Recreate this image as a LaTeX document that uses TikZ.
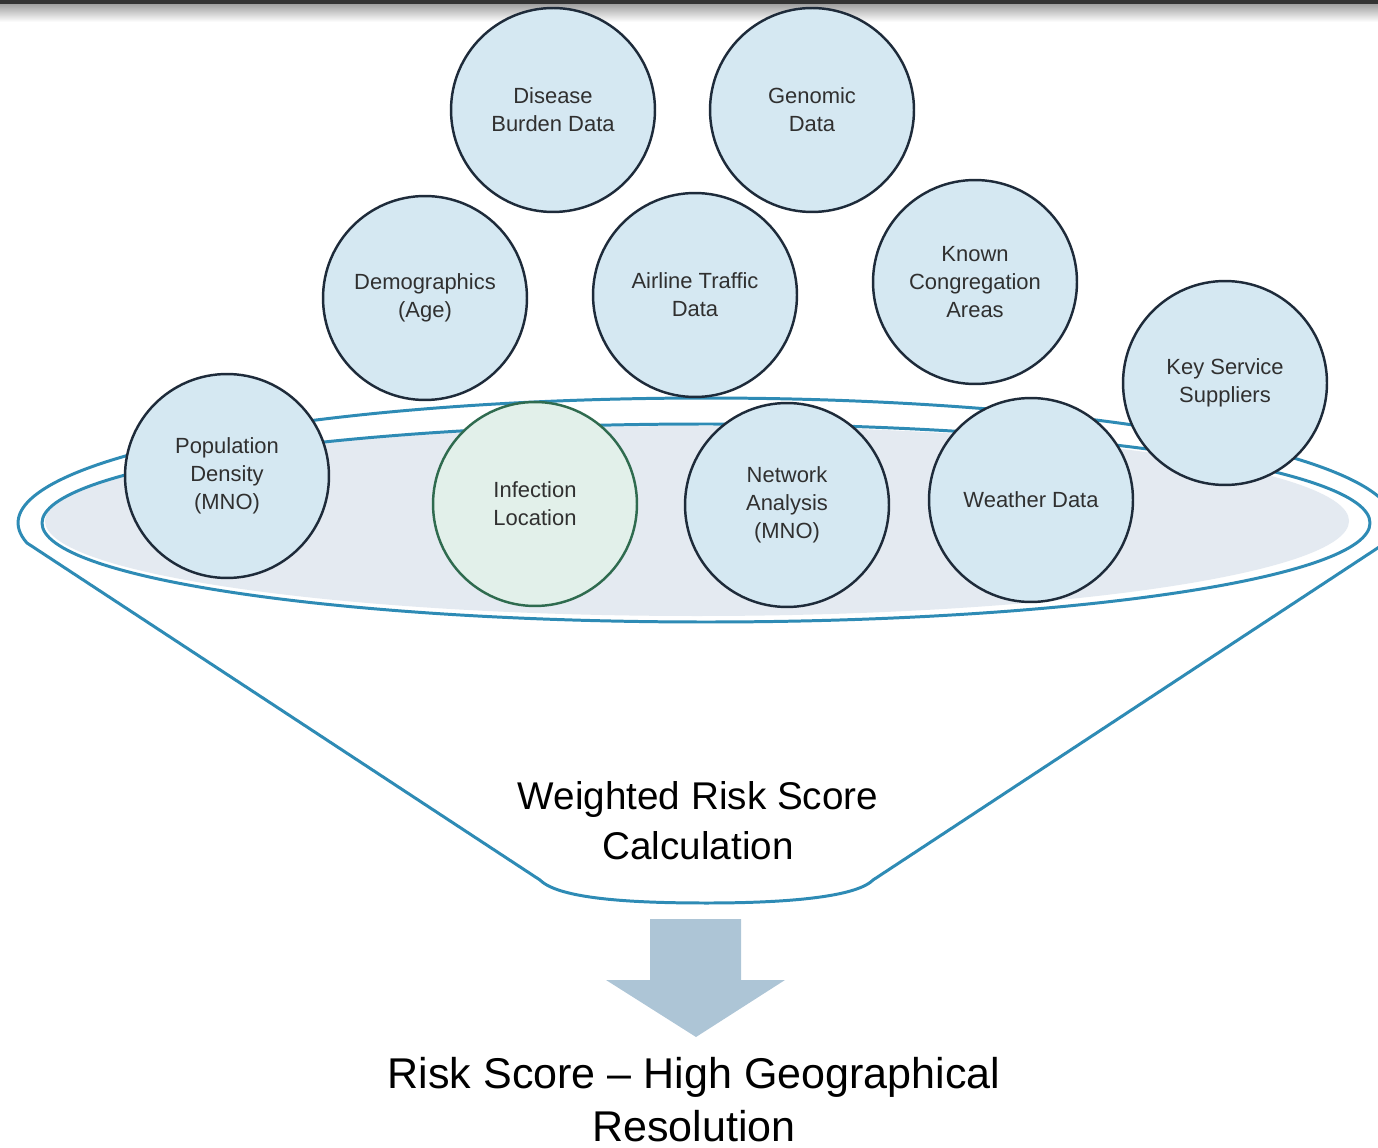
\documentclass[tikz,border=0pt]{standalone}
\usepackage{fontspec}
\setmainfont{Liberation Sans}
\usepackage{xcolor}
\usepackage{tikz}

\definecolor{rimblue}{HTML}{2E8BB5}
\definecolor{circfill}{HTML}{D5E8F2}
\definecolor{circline}{HTML}{1E2B3A}
\definecolor{locfill}{HTML}{E2F0EA}
\definecolor{locline}{HTML}{2F6B4F}
\definecolor{bowlfill}{HTML}{E4EAF1}
\definecolor{arrowfill}{HTML}{ADC5D6}
\definecolor{labelgray}{HTML}{303030}

\begin{document}
\begin{tikzpicture}[
  x=0.02cm, y=0.02cm,
  datacirc/.style={circle, draw=circline, fill=circfill, line width=1.4pt,
    minimum size=4.08cm, inner sep=0pt, align=center, text=labelgray,
    font=\fontsize{12.5}{15.8}\selectfont},
  loccirc/.style={datacirc, draw=locline, fill=locfill},
  rim/.style={draw=rimblue, line width=1.7pt, line join=round},
  calctext/.style={align=center, inner sep=0pt, font=\fontsize{22}{28.3}\selectfont},
  resulttext/.style={align=center, inner sep=0pt, font=\fontsize{24.5}{30}\selectfont}
]
  \useasboundingbox (0,0) rectangle (1378,-1148);

  \fill[black!80] (0,0) rectangle (1378,-5);
  \shade[top color=black!35, bottom color=white] (0,-5) rectangle (1378,-22);

  \draw[rim, fill=white] (27,-543)
    arc[start angle=189.2, end angle=-9.2, x radius=688, y radius=125]
    -- (873,-880) .. controls (855,-898) and (780,-903) .. (707,-903)
    .. controls (640,-903) and (560,-900) .. (540,-880) -- cycle;
  \fill[bowlfill] (697,-521) ellipse[x radius=652, y radius=95];
  \draw[rim] (706,-523) ellipse[x radius=664, y radius=99];

  \node[datacirc] (disease) at (553,-110)  {Disease\\Burden Data};
  \node[datacirc] (genomic) at (812,-110)  {Genomic\\Data};
  \node[datacirc] (demog)   at (425,-298)  {Demographics\\(Age)};
  \node[datacirc] (airline) at (695,-295)  {Airline Traffic\\Data};
  \node[datacirc] (congr)   at (975,-282)  {Known\\Congregation\\Areas};
  \node[datacirc] (keysup)  at (1225,-383) {Key Service\\Suppliers};
  \node[datacirc] (popdens) at (227,-476)  {Population\\Density\\(MNO)};
  \node[loccirc]  (infloc)  at (535,-504)  {Infection\\Location};
  \node[datacirc] (netan)   at (787,-505)  {Network\\Analysis\\(MNO)};
  \node[datacirc] (weather) at (1031,-500) {Weather Data};

  \node[calctext, anchor=north] (calc) at (698,-781) {Weighted Risk Score\\Calculation};

  \fill[arrowfill] (650,-919) -- (741,-919) -- (741,-980) -- (785,-980)
    -- (696,-1037) -- (606,-980) -- (650,-980) -- cycle;

  \node[resulttext, anchor=north] (result) at (694,-1057) {Risk Score -- High Geographical\\Resolution};
\end{tikzpicture}
\end{document}
